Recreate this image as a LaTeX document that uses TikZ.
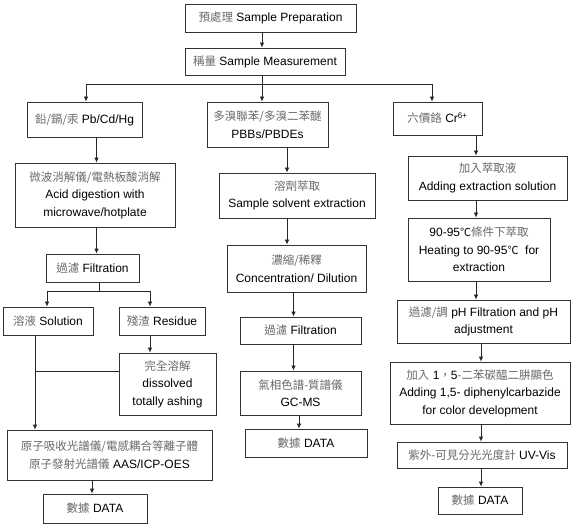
\documentclass[tikz,border=0pt]{standalone}
\usepackage{fontspec}
\setmainfont{Liberation Sans}
\newfontfamily\cjk{Noto Sans CJK TC}
\usetikzlibrary{arrows.meta}
\definecolor{zhgray}{RGB}{105,105,105}
\newcommand{\zh}[1]{{\cjk\fontsize{11.5}{17.5}\selectfont\color{zhgray}#1}}
\newcommand{\dc}{{\cjk\fontsize{11}{17.5}\selectfont ℃}}

\begin{document}
\begin{tikzpicture}[x=1pt,y=-1pt,
  box/.style={draw=black!80, line width=0.8pt, inner sep=0pt, align=center,
    font=\fontsize{12}{17.5}\selectfont},
  arr/.style={-{Latex[length=5pt,width=4.5pt]}, line width=0.8pt, black!85},
  ln/.style={line width=0.8pt, black!85}]

\useasboundingbox (0,0) rectangle (575,526);

% top
\node[box, minimum width=171, minimum height=28] (prep) at (270.5,18) {\zh{預處理} Sample Preparation};
\node[box, minimum width=160, minimum height=27] (meas) at (265,61.5) {\zh{稱量} Sample Measurement};

\node[box, minimum width=115, minimum height=35] (pb)  at (84.5,119.5) {\zh{鉛/鎘/汞} Pb/Cd/Hg};
\node[box, minimum width=121, minimum height=45] (pbb) at (267.5,124.5) {\zh{多溴聯苯/多溴二苯醚}\\PBBs/PBDEs};
\node[box, minimum width=89, minimum height=33]  (cr)  at (437.5,118.5) {\zh{六價鉻} Cr\textsuperscript{6+}};

% left column
\node[box, minimum width=160, minimum height=64] (acid)  at (95,195) {\zh{微波消解儀/電熱板酸消解}\\Acid digestion with\\microwave/hotplate};
\node[box, minimum width=93, minimum height=28]  (filt1) at (92.5,268) {\zh{過濾} Filtration};
\node[box, minimum width=90, minimum height=28]  (sol)   at (48,321) {\zh{溶液} Solution};
\node[box, minimum width=86, minimum height=28]  (res)   at (162,321) {\zh{殘渣} Residue};
\node[box, minimum width=97, minimum height=62]  (diss)  at (167.5,384) {\zh{完全溶解}\\dissolved\\totally ashing};
\node[box, minimum width=205, minimum height=50] (aas)   at (109.5,455) {\zh{原子吸收光譜儀/電感耦合等離子體}\\\zh{原子發射光譜儀} AAS/ICP-OES};
\node[box, minimum width=104, minimum height=29] (data1) at (95,508.5) {\zh{數據} DATA};

% middle column
\node[box, minimum width=156, minimum height=45] (solv)  at (297,195.5) {\zh{溶劑萃取}\\Sample solvent extraction};
\node[box, minimum width=139, minimum height=47] (conc)  at (296.5,268.5) {\zh{濃縮/稀釋}\\Concentration/ Dilution};
\node[box, minimum width=121, minimum height=27] (filt2) at (300.5,330.5) {\zh{過濾} Filtration};
\node[box, minimum width=121, minimum height=44] (gcms)  at (300.5,393) {\zh{氣相色譜-質譜儀}\\GC-MS};
\node[box, minimum width=122, minimum height=28] (data2) at (306,443) {\zh{數據} DATA};

% right column
\node[box, minimum width=159, minimum height=44] (add)   at (487.5,178) {\zh{加入萃取液}\\Adding extraction solution};
\node[box, minimum width=142, minimum height=63] (heat)  at (479,249.5) {90-95\dc\zh{條件下萃取}\\Heating to 90-95\dc\ \ for\\extraction};
\node[box, minimum width=173, minimum height=43] (phadj) at (483.5,321.5) {\zh{過濾/調} pH Filtration and pH\\adjustment};
\node[box, minimum width=180, minimum height=62] (dpc)   at (480,393) {\zh{加入} 1\zh{，}5\zh{-二苯碳醯二肼顯色}\\Adding 1,5- diphenylcarbazide\\for color development};
\node[box, minimum width=170, minimum height=26] (uv)    at (482,455) {\zh{紫外-可見分光光度計} UV-Vis};
\node[box, minimum width=84, minimum height=27]  (data3) at (480,500.5) {\zh{數據} DATA};

% connector columns
\coordinate (xa) at (262,0);  \coordinate (xl) at (86,0);   \coordinate (xr) at (432,0);
\coordinate (xl2) at (96.5,0); \coordinate (xsol) at (47,0); \coordinate (xres) at (150,0);
\coordinate (xs2) at (35,0);  \coordinate (xd1) at (92,0);
\coordinate (xm1) at (287,0); \coordinate (xm2) at (293.5,0); \coordinate (xm3) at (299,0);
\coordinate (xr1) at (476,0); \coordinate (xr2) at (481,0);
\coordinate (top) at (262,84); \coordinate (ls) at (99,291); \coordinate (lj) at (35,371);

\draw[arr] (prep.south -| xa) -- (meas.north -| xa);
\draw[ln] (meas.south -| xa) -- (top);
\draw[ln] (top -| xl) -- (top -| xr);
\draw[arr] (top -| xl) -- (pb.north -| xl);
\draw[arr] (top) -- (pbb.north -| xa);
\draw[arr] (top -| xr) -- (cr.north -| xr);

\draw[arr] (pb.south -| xl2) -- (acid.north -| xl2);
\draw[arr] (acid.south -| xl2) -- (filt1.north -| xl2);
\draw[ln] (filt1.south -| ls) -- (ls);
\draw[ln] (ls -| xsol) -- (ls -| xres);
\draw[arr] (ls -| xsol) -- (sol.north -| xsol);
\draw[arr] (ls -| xres) -- (res.north -| xres);
\draw[arr] (res.south -| xres) -- (diss.north -| xres);
\draw[arr] (sol.south -| xs2) -- (aas.north -| xs2);
\draw[ln] (lj) -- (diss.west |- lj);
\draw[arr] (aas.south -| xd1) -- (data1.north -| xd1);

\draw[arr] (pbb.south -| xm1) -- (solv.north -| xm1);
\draw[arr] (solv.south -| xm1) -- (conc.north -| xm1);
\draw[arr] (conc.south -| xm2) -- (filt2.north -| xm2);
\draw[arr] (filt2.south -| xm2) -- (gcms.north -| xm2);
\draw[arr] (gcms.south -| xm3) -- (data2.north -| xm3);

\draw[arr] (cr.south -| xr1) -- (add.north -| xr1);
\draw[arr] (add.south -| xr1) -- (heat.north -| xr1);
\draw[arr] (heat.south -| xr1) -- (phadj.north -| xr1);
\draw[arr] (phadj.south -| xr2) -- (dpc.north -| xr2);
\draw[arr] (dpc.south -| xr2) -- (uv.north -| xr2);
\draw[arr] (uv.south -| xr2) -- (data3.north -| xr2);

\end{tikzpicture}
\end{document}
